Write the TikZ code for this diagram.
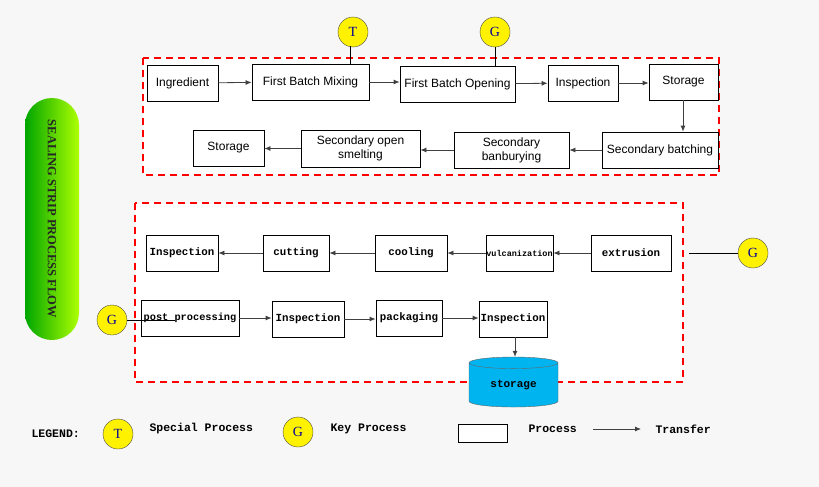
\documentclass[tikz,border=0pt]{standalone}
\usepackage{fontspec}
\setmainfont{Liberation Sans}
\newfontfamily\monof{Liberation Mono}
\newfontfamily\serif{Liberation Serif}
\definecolor{cyl}{HTML}{00B4F0}
\usetikzlibrary{shapes.geometric,arrows.meta}
\begin{document}
\begin{tikzpicture}[x=1pt,y=-1pt,
  box/.style={draw,line width=0.8pt,fill=white,inner sep=1pt,align=center},
  sbox/.style={box,font=\fontsize{12}{14}\selectfont},
  mbox/.style={box,inner sep=0pt,font=\monof\bfseries\fontsize{10.8}{13}\selectfont},
  arr/.style={-{Latex[length=6pt,width=5pt]},line width=0.8pt,draw=black!75},
  circ/.style={circle,draw=black!70,fill=yellow,minimum size=30pt,inner sep=0pt,font=\serif\fontsize{14}{14}\selectfont,text=blue!60!black},
  zone/.style={draw=red,dashed,line width=1.6pt,dash pattern=on 7pt off 5pt},
  leg/.style={font=\monof\bfseries\fontsize{11.5}{13}\selectfont,anchor=west}]
\fill[gray!6] (0,0) rectangle (819,487);
\useasboundingbox (0,0) rectangle (819,487);
% title pill
\node[rounded corners=27pt,minimum width=54pt,minimum height=242pt,left color=green!65!black,right color=lime!60!yellow!80!green,draw=none] (pill) at (52,219) {};
\node[rotate=-90,font=\serif\bfseries\fontsize{12.5}{13}\selectfont,text=black!85] (ptitle) at (52,219) {SEALING STRIP PROCESS FLOW};
% zones
\draw[zone,fill=white] (143,58) rectangle (719,175);
\draw[zone,fill=white] (135,203) rectangle (683,382);
% row 1
\node[sbox,minimum width=71pt,minimum height=36pt] (ing) at (182.5,83) {Ingredient};
\node[sbox,minimum width=117pt,minimum height=36pt] (fbm) at (310.5,82) {First Batch Mixing};
\node[sbox,minimum width=115pt,minimum height=36pt] (fbo) at (457.5,84) {First Batch Opening};
\node[sbox,minimum width=70pt,minimum height=36pt] (in1) at (583,83) {Inspection};
\node[sbox,minimum width=69pt,minimum height=36pt] (st1) at (683.5,82) {Storage};
% row 2
\node[sbox,minimum width=71pt,minimum height=36pt] (st2) at (228.5,148) {Storage};
\node[sbox,minimum width=119pt,minimum height=37pt] (sos) at (360.5,148.5) {Secondary open\\smelting};
\node[sbox,minimum width=115pt,minimum height=36pt] (sbn) at (511.5,150) {Secondary\\banburying};
\node[sbox,minimum width=116pt,minimum height=36pt] (sbt) at (660,150) {Secondary batching};
\draw[arr] (ing) -- (fbm);
\draw[arr] (fbm) -- (fbm-|fbo.west);
\draw[arr] (fbo) -- (in1);
\draw[arr] (in1) -- (in1-|st1.west);
\draw[arr] (st1.south-|683,100) -- (sbt.north-|683,0);
\draw[arr] (sbt) -- (sbn);
\draw[arr] (sbn) -- (sbn-|sos.east);
\draw[arr] (sos) -- (sos-|st2.east);
\node[circ] (t1) at (353,32) {T};
\node[circ] (g1) at (495,32) {G};
\draw[line width=0.8pt] (350,46) -- (fbm.north-|350,0);
\draw[line width=0.8pt] (g1) -- (fbo.north-|495,0);
% lower row A
\node[mbox,minimum width=72pt,minimum height=36pt] (in2) at (182,253) {Inspection};
\node[mbox,minimum width=66pt,minimum height=36pt] (cut) at (296,253) {cutting};
\node[mbox,minimum width=72pt,minimum height=36pt] (col) at (411,253) {cooling};
\node[mbox,minimum width=67pt,minimum height=36pt,font=\monof\bfseries\fontsize{8.5}{10}\selectfont] (vul) at (519.5,253) {vulcanization};
\node[mbox,minimum width=80pt,minimum height=36pt] (ext) at (631,253) {extrusion};
\draw[arr] (ext) -- (vul);
\draw[arr] (vul) -- (col);
\draw[arr] (col) -- (cut);
\draw[arr] (cut) -- (in2);
\node[circ] (g2) at (753,253) {G};
\coordinate (g2l) at (689,253);
\draw[line width=0.8pt] (g2l) -- (g2);
% row B
\node[mbox,minimum width=98pt,minimum height=36pt,font=\monof\bfseries\fontsize{10.3}{13}\selectfont] (pp) at (190,318) {post processing};
\node[mbox,minimum width=72pt,minimum height=36pt] (in3) at (308,319) {Inspection};
\node[mbox,minimum width=66pt,minimum height=36pt] (pkg) at (409,318) {packaging};
\node[mbox,minimum width=68pt,minimum height=36pt] (in4) at (513,319) {Inspection};
\draw[arr] (pp) -- (pp-|in3.west);
\draw[arr] (in3) -- (in3-|pkg.west);
\draw[arr] (pkg) -- (pkg-|in4.west);
\node[circ] (g3) at (112,320) {G};
\coordinate (g3r) at (175,320);
\draw[line width=0.8pt] (g3) -- (g3r);
\node[cylinder,shape border rotate=90,draw=black!60,fill=cyl,aspect=0.25,minimum width=89pt,minimum height=50pt,font=\monof\bfseries\fontsize{11}{13}\selectfont,inner sep=0pt] (sto) at (513.5,385) {storage};
\draw[arr] (in4.south-|515,0) -- (sto.north-|515,0);
% legend
\node[leg] (lg) at (28,434) {LEGEND:};
\node[circ] (lt) at (118,434) {T};
\node[leg] (lsp) at (146,429) {Special Process};
\node[circ] (lgc) at (298,432) {G};
\node[leg] (lkp) at (327,429) {Key Process};
\node[draw,fill=white,line width=0.8pt,minimum width=49pt,minimum height=18pt,inner sep=0pt] (lbox) at (482.5,433) {};
\node[leg] (lpr) at (525,429) {Process};
\coordinate (la1) at (593,429);
\coordinate (la2) at (641,429);
\draw[arr] (la1) -- (la2);
\node[leg] (ltr) at (652,429) {Transfer};
\end{tikzpicture}
\end{document}
